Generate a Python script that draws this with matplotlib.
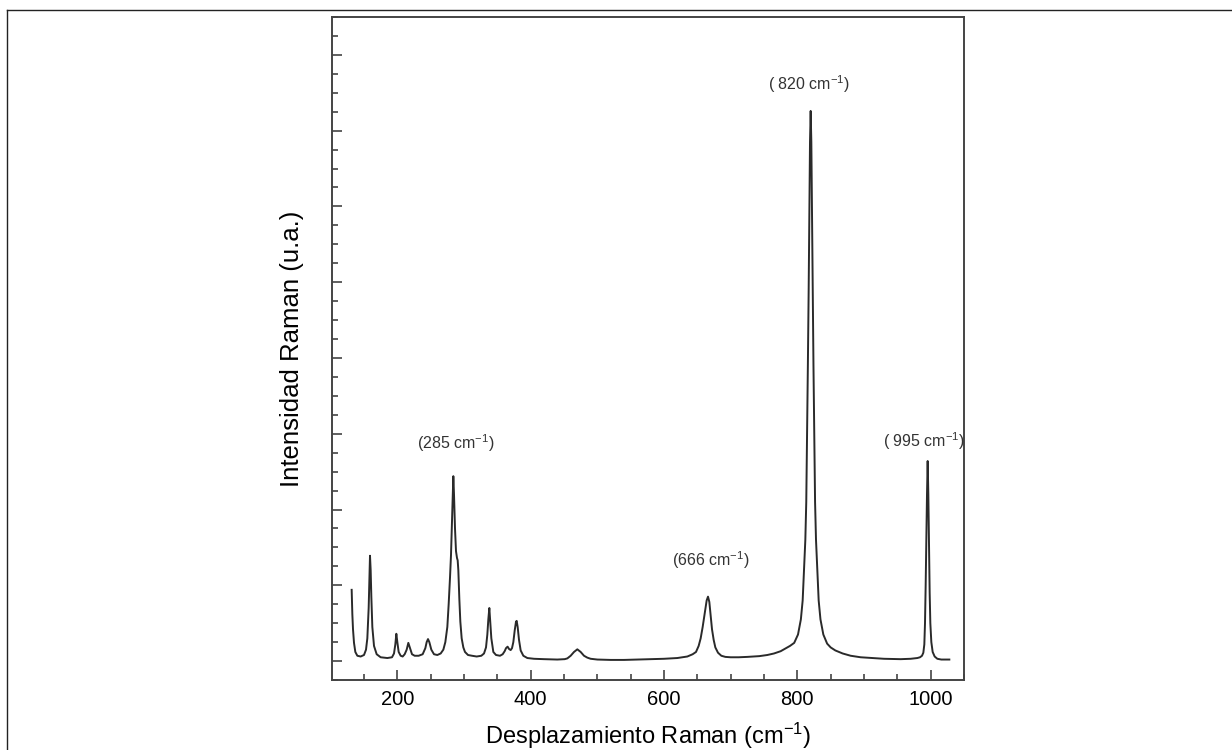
import numpy as np
import matplotlib
matplotlib.use("Agg")
import matplotlib.pyplot as plt
from matplotlib.lines import Line2D
from matplotlib.ticker import MultipleLocator

plt.rcParams['font.family'] = ['Liberation Sans', 'DejaVu Sans']
plt.rcParams['mathtext.fontset'] = 'custom'
plt.rcParams['mathtext.rm'] = 'Liberation Sans'
plt.rcParams['mathtext.it'] = 'Liberation Sans:italic'
plt.rcParams['mathtext.bf'] = 'Liberation Sans:bold'

# spectrum (Raman shift in cm-1, intensity a.u.)
shift = [131.5, 132.5, 133.5, 135, 137, 140, 145, 150, 153, 155, 157, 158, 159, 160, 161, 162.5,
         165, 169, 175, 185, 192, 195, 197, 198.5, 200, 202, 205, 208, 211, 214, 216.5, 219,
         222, 226, 232, 238, 242, 244, 246, 248, 251, 255, 260, 265, 269, 272, 275, 277, 279,
         280.5, 282, 283, 284, 285, 286.5, 288, 289.5, 290.5, 291.5, 293, 294.5, 296.5, 299,
         301.5, 306, 312, 319, 326, 330, 333, 335, 336.5, 338, 339.5, 341, 344, 348, 354, 358,
         361, 363, 365.4, 367.5, 370, 372, 374, 376, 378, 379, 380.5, 382.5, 385, 389, 395,
         405, 420, 440, 451, 455, 460, 465, 470, 475, 480, 485, 490, 500, 520, 540, 560, 580,
         600, 620, 635, 643, 648, 652, 655, 658, 661, 664, 666, 668, 670, 672, 674.5, 677, 681,
         686, 692, 700, 712, 725, 743, 755, 765, 775, 783, 789, 795.3, 801, 805.3, 808, 810,
         812, 813.4, 814.5, 815.8, 817, 818, 819, 820, 821, 822, 823, 824.2, 825.5, 826.6,
         828, 830, 832, 834.7, 839, 844.7, 850, 857, 868, 880, 895, 913, 930, 955, 970, 980,
         984, 987, 989, 990.5, 991.5, 992.5, 993.5, 994.5, 995.5, 996.5, 997.5, 998.5, 999.5,
         1001, 1003, 1006, 1010, 1016, 1028]
intensity = [0.94, 0.62, 0.42, 0.24, 0.12, 0.07, 0.06, 0.08, 0.15, 0.3, 0.7, 1.05, 1.39, 1.2, 0.85, 0.45,
             0.2, 0.09, 0.05, 0.04, 0.05, 0.1, 0.22, 0.36, 0.25, 0.12, 0.07, 0.06, 0.09, 0.15, 0.24, 0.17,
             0.09, 0.07, 0.07, 0.09, 0.17, 0.25, 0.29, 0.25, 0.15, 0.09, 0.08, 0.1, 0.15, 0.25, 0.45, 0.75, 1.1,
             1.4, 1.85, 2.2, 2.44, 2.2, 1.75, 1.45, 1.36, 1.33, 1.2, 0.82, 0.52, 0.3, 0.18,
             0.12, 0.08, 0.07, 0.06, 0.07, 0.1, 0.18, 0.35, 0.55, 0.70, 0.5, 0.3, 0.12, 0.08, 0.07, 0.09,
             0.13, 0.17, 0.19, 0.16, 0.145, 0.17, 0.25, 0.4, 0.52, 0.53, 0.45, 0.28, 0.14, 0.07, 0.04,
             0.03, 0.025, 0.02, 0.025, 0.035, 0.07, 0.12, 0.155, 0.12, 0.07, 0.045, 0.03, 0.02, 0.015, 0.015, 0.02, 0.025,
             0.03, 0.04, 0.06, 0.09, 0.12, 0.2, 0.3, 0.45, 0.63, 0.8, 0.85, 0.78, 0.6, 0.42, 0.28, 0.18, 0.11,
             0.07, 0.055, 0.05, 0.05, 0.055, 0.065, 0.08, 0.1, 0.13, 0.17, 0.2, 0.24, 0.35, 0.55, 0.8, 1.2,
             1.6, 2.1, 2.9, 3.9, 4.9, 5.9, 6.85, 7.26, 6.85, 5.9, 4.9, 3.9, 2.9, 2.1,
             1.6, 1.2, 0.8, 0.55, 0.35, 0.23, 0.18, 0.14, 0.1, 0.07, 0.05, 0.04, 0.03, 0.025, 0.03, 0.04,
             0.05, 0.07, 0.11, 0.22, 0.5, 1.0, 1.6, 2.2, 2.64, 2.2, 1.5, 0.9, 0.5,
             0.25, 0.12, 0.06, 0.03, 0.02, 0.02]

peak_labels = ['(285 cm$^{-1}$)', '(666 cm$^{-1}$)', '( 820 cm$^{-1}$)', '( 995 cm$^{-1}$)']
label_x = [288, 670, 818, 989.5]
label_y = [2.87, 1.33, 7.61, 2.90]

fig = plt.figure(figsize=(12.32, 7.5), dpi=100)
ax = fig.add_axes([332 / 1232, 1 - 680 / 750, (964 - 332) / 1232, (680 - 17) / 750])

ax.plot(shift, intensity, color='#2a2a2a', lw=1.4)

for t, x, y in zip(peak_labels, label_x, label_y):
    ax.text(x, y, t, ha='center', va='center', fontsize=11.5, color='#333333')

ax.set_xlim(102, 1050)
ax.set_ylim(-0.25, 8.5)
ax.xaxis.set_major_locator(MultipleLocator(200))
ax.xaxis.set_minor_locator(MultipleLocator(50))
ax.yaxis.set_major_locator(MultipleLocator(1))
ax.yaxis.set_minor_locator(MultipleLocator(0.25))
ax.tick_params(which='both', direction='in', color='#444444', top=False, right=False)
ax.tick_params(which='major', length=7, width=1.2)
ax.tick_params(which='minor', length=4, width=1.2)
ax.tick_params(axis='x', labelsize=14.5, pad=7)
ax.tick_params(axis='y', labelleft=False)
for s in ax.spines.values():
    s.set_color('#444444')
    s.set_linewidth(1.4)

ax.set_xlabel('Desplazamiento Raman (cm$^{-1}$)', fontsize=17, labelpad=9)
ax.set_ylabel('Intensidad Raman (u.a.)', fontsize=18.5, labelpad=17)

# outer frame of the picture (left and top edges)
fig.add_artist(Line2D([7 / 1232, 7 / 1232], [0, 1 - 10 / 750], transform=fig.transFigure, color='#222222', lw=1))
fig.add_artist(Line2D([7 / 1232, 1], [1 - 10 / 750, 1 - 10 / 750], transform=fig.transFigure, color='#222222', lw=1))

fig.savefig('out.png', dpi=100)
